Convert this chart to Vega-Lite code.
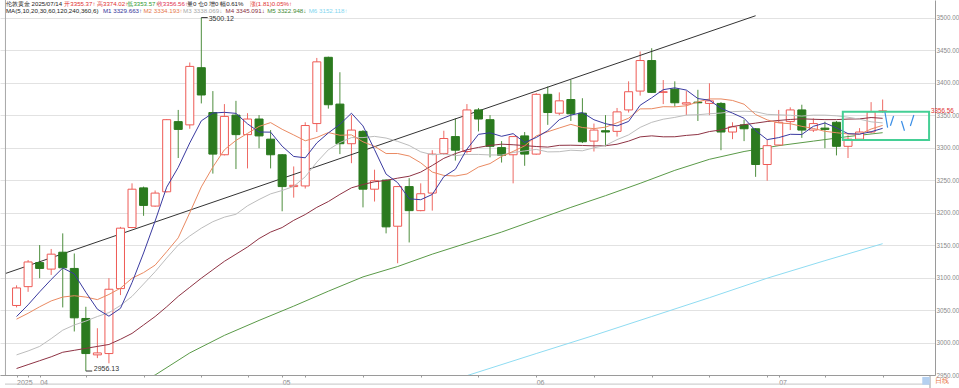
{
"$schema": "https://vega.github.io/schema/vega-lite/v6.json",
"width": 935, "height": 375,
"autosize": {"type": "none"},
"padding": {"left": 0, "top": 0, "right": 24, "bottom": 13},
"background": "#ffffff",
"config": {"view": {"stroke": null}, "font": "Liberation Sans", "axis": {"labelOverlap": false, "labelSeparation": -20}, "axisY": {"labelOverlap": false}, "axisRight": {"labelOverlap": false}},
"datasets": {
"k": [
{"i":0,"o":3057,"h":3088,"l":3054,"c":3084,"m5":3040,"m10":3036,"m20":2981,"m30":2960},
{"i":1,"o":3086,"h":3127,"l":3078,"c":3124,"m5":3058,"m10":3045,"m20":2987,"m30":2966},
{"i":2,"o":3123,"h":3150,"l":3099,"c":3114,"m5":3078,"m10":3055,"m20":2994,"m30":2972},
{"i":3,"o":3113,"h":3144,"l":3104,"c":3136,"m5":3097,"m10":3064,"m20":3006,"m30":2978},
{"i":4,"o":3139,"h":3168,"l":3054,"c":3115,"m5":3114.7,"m10":3070,"m20":3019,"m30":2985},
{"i":5,"o":3114,"h":3137,"l":3017,"c":3038,"m5":3105.6,"m10":3072,"m20":3027,"m30":2988},
{"i":6,"o":3037,"h":3055,"l":2956.13,"c":2983,"m5":3077.4,"m10":3070,"m20":3033,"m30":2991},
{"i":7,"o":2981,"h":3022,"l":2976,"c":2984,"m5":3051.3,"m10":3066,"m20":3040,"m30":2994},
{"i":8,"o":2983,"h":3099,"l":2968,"c":3082,"m5":3040.5,"m10":3074,"m20":3046,"m30":2997},
{"i":9,"o":3083,"h":3178,"l":3073,"c":3176,"m5":3052.6,"m10":3083.6,"m20":3057,"m30":3005},
{"i":10,"o":3177,"h":3245,"l":3176,"c":3236,"m5":3092.2,"m10":3098.9,"m20":3071,"m30":3014},
{"i":11,"o":3238,"h":3240,"l":3195,"c":3211,"m5":3137.8,"m10":3107.6,"m20":3090,"m30":3027},
{"i":12,"o":3210,"h":3234,"l":3209,"c":3230,"m5":3187,"m10":3119.1,"m20":3109,"m30":3040},
{"i":13,"o":3232,"h":3344,"l":3231,"c":3343,"m5":3239.1,"m10":3139.8,"m20":3130,"m30":3055},
{"i":14,"o":3340,"h":3358,"l":3284,"c":3328,"m5":3269.6,"m10":3161.1,"m20":3150,"m30":3071},
{"i":15,"o":3335,"h":3431,"l":3329,"c":3425,"m5":3307.2,"m10":3199.7,"m20":3164,"m30":3085},
{"i":16,"o":3423,"h":3500.12,"l":3368,"c":3381,"m5":3341.2,"m10":3239.5,"m20":3176,"m30":3099},
{"i":17,"o":3354,"h":3387,"l":3260,"c":3290,"m5":3353.2,"m10":3270.1,"m20":3186,"m30":3112},
{"i":18,"o":3289,"h":3367,"l":3288,"c":3348,"m5":3354.3,"m10":3296.7,"m20":3193,"m30":3125},
{"i":19,"o":3350,"h":3372,"l":3267,"c":3320,"m5":3352.7,"m10":3311.1,"m20":3197.4,"m30":3136},
{"i":20,"o":3320,"h":3353,"l":3268,"c":3344,"m5":3336.6,"m10":3321.9,"m20":3210.4,"m30":3147},
{"i":21,"o":3344,"h":3350,"l":3299,"c":3318,"m5":3324,"m10":3332.6,"m20":3220.1,"m30":3160},
{"i":22,"o":3313,"h":3327,"l":3268,"c":3289,"m5":3323.8,"m10":3338.5,"m20":3228.8,"m30":3170},
{"i":23,"o":3289,"h":3290,"l":3202,"c":3240,"m5":3302.2,"m10":3328.2,"m20":3234,"m30":3177},
{"i":24,"o":3240,"h":3271,"l":3223,"c":3242,"m5":3286.4,"m10":3319.5,"m20":3240.3,"m30":3188},
{"i":25,"o":3241,"h":3339,"l":3237,"c":3334,"m5":3284.3,"m10":3310.5,"m20":3255.1,"m30":3197},
{"i":26,"o":3337,"h":3438,"l":3324,"c":3432,"m5":3307.2,"m10":3315.6,"m20":3277.6,"m30":3208},
{"i":27,"o":3439,"h":3440,"l":3360,"c":3366,"m5":3322.6,"m10":3323.2,"m20":3296.7,"m30":3217},
{"i":28,"o":3367,"h":3416,"l":3290,"c":3306,"m5":3335.8,"m10":3319,"m20":3307.8,"m30":3228},
{"i":29,"o":3306,"h":3350,"l":3276,"c":3327,"m5":3352.9,"m10":3319.6,"m20":3315.4,"m30":3238.1},
{"i":30,"o":3325,"h":3327,"l":3208,"c":3236,"m5":3333.4,"m10":3308.9,"m20":3315.4,"m30":3243.2},
{"i":31,"o":3236,"h":3266,"l":3217,"c":3249,"m5":3296.8,"m10":3302,"m20":3317.3,"m30":3247.4},
{"i":32,"o":3250,"h":3251,"l":3168,"c":3178,"m5":3259.2,"m10":3290.9,"m20":3314.7,"m30":3249.5},
{"i":33,"o":3179,"h":3241,"l":3122,"c":3240,"m5":3246.1,"m10":3290.9,"m20":3309.6,"m30":3253},
{"i":34,"o":3240,"h":3253,"l":3154,"c":3203,"m5":3221.2,"m10":3287.1,"m20":3303.3,"m30":3255.9},
{"i":35,"o":3203,"h":3245,"l":3202,"c":3229,"m5":3219.8,"m10":3276.6,"m20":3293.5,"m30":3262.3},
{"i":36,"o":3230,"h":3296,"l":3203,"c":3290,"m5":3227.9,"m10":3262.4,"m20":3289,"m30":3272.5},
{"i":37,"o":3291,"h":3326,"l":3289,"c":3314,"m5":3255.3,"m10":3257.2,"m20":3290.2,"m30":3283.5},
{"i":38,"o":3317,"h":3345,"l":3280,"c":3296,"m5":3266.6,"m10":3256.3,"m20":3287.6,"m30":3290.7},
{"i":39,"o":3294,"h":3367,"l":3291,"c":3358,"m5":3297.6,"m10":3259.4,"m20":3289.5,"m30":3296.7},
{"i":40,"o":3358,"h":3361,"l":3325,"c":3344,"m5":3320.4,"m10":3270.1,"m20":3289.5,"m30":3300.3},
{"i":41,"o":3343,"h":3350,"l":3285,"c":3302,"m5":3322.8,"m10":3275.4,"m20":3288.7,"m30":3303.3},
{"i":42,"o":3300,"h":3310,"l":3277,"c":3288,"m5":3317.4,"m10":3286.4,"m20":3288.6,"m30":3305.3},
{"i":43,"o":3289,"h":3318,"l":3245,"c":3317,"m5":3321.5,"m10":3294.1,"m20":3292.5,"m30":3304.4},
{"i":44,"o":3318,"h":3324,"l":3272,"c":3290,"m5":3307.9,"m10":3302.7,"m20":3294.9,"m30":3303.1},
{"i":45,"o":3290,"h":3384,"l":3289,"c":3382,"m5":3315.6,"m10":3318,"m20":3297.3,"m30":3301.7},
{"i":46,"o":3382,"h":3394,"l":3335,"c":3354,"m5":3326.1,"m10":3324.4,"m20":3293.4,"m30":3300.8},
{"i":47,"o":3353,"h":3385,"l":3350,"c":3372,"m5":3343,"m10":3330.2,"m20":3293.7,"m30":3303.5},
{"i":48,"o":3374,"h":3404,"l":3341,"c":3352,"m5":3350,"m10":3335.8,"m20":3296,"m30":3303.7},
{"i":49,"o":3353,"h":3376,"l":3307,"c":3309,"m5":3353.9,"m10":3330.9,"m20":3295.1,"m30":3303.3},
{"i":50,"o":3310,"h":3337,"l":3294,"c":3327,"m5":3342.9,"m10":3329.2,"m20":3299.7,"m30":3302.7},
{"i":51,"o":3326,"h":3350,"l":3302,"c":3324,"m5":3336.8,"m10":3331.5,"m20":3303.4,"m30":3302.9},
{"i":52,"o":3325,"h":3361,"l":3317,"c":3355,"m5":3333.4,"m10":3338.2,"m20":3312.3,"m30":3305.2},
{"i":53,"o":3358,"h":3402,"l":3354,"c":3386,"m5":3340.3,"m10":3345.2,"m20":3319.6,"m30":3310},
{"i":54,"o":3387,"h":3448,"l":3380,"c":3434,"m5":3365.2,"m10":3359.6,"m20":3331.1,"m30":3316.5},
{"i":55,"o":3434,"h":3453,"l":3384,"c":3385,"m5":3376.7,"m10":3359.8,"m20":3338.9,"m30":3318.1},
{"i":56,"o":3385,"h":3404,"l":3367,"c":3386,"m5":3389.2,"m10":3363,"m20":3343.7,"m30":3316.6},
{"i":57,"o":3390,"h":3402,"l":3363,"c":3369,"m5":3392,"m10":3362.7,"m20":3346.5,"m30":3316.7},
{"i":58,"o":3367,"h":3387,"l":3350,"c":3369,"m5":3388.6,"m10":3364.4,"m20":3350.1,"m30":3318.8},
{"i":59,"o":3370,"h":3389,"l":3341,"c":3369,"m5":3375.5,"m10":3370.4,"m20":3350.6,"m30":3320.2},
{"i":60,"o":3368,"h":3399,"l":3350,"c":3372,"m5":3373,"m10":3374.9,"m20":3352.1,"m30":3324.7},
{"i":61,"o":3368,"h":3370,"l":3296,"c":3324,"m5":3360.5,"m10":3374.9,"m20":3353.2,"m30":3327.2},
{"i":62,"o":3324,"h":3339,"l":3313,"c":3332,"m5":3353.1,"m10":3372.6,"m20":3355.4,"m30":3332.4},
{"i":63,"o":3335,"h":3343,"l":3310,"c":3329,"m5":3345.1,"m10":3366.8,"m20":3356,"m30":3335.3},
{"i":64,"o":3329,"h":3330,"l":3255,"c":3274,"m5":3326.2,"m10":3350.9,"m20":3355.2,"m30":3337.7},
{"i":65,"o":3274,"h":3312,"l":3249,"c":3303,"m5":3312.3,"m10":3342.7,"m20":3351.2,"m30":3340.2},
{"i":66,"o":3304,"h":3358,"l":3303,"c":3339,"m5":3315.4,"m10":3338,"m20":3350.5,"m30":3341.8},
{"i":67,"o":3340,"h":3362,"l":3327,"c":3358,"m5":3320.5,"m10":3336.8,"m20":3349.8,"m30":3343.3},
{"i":68,"o":3358,"h":3366,"l":3315,"c":3327,"m5":3320.2,"m10":3332.7,"m20":3348.5,"m30":3344.3},
{"i":69,"o":3327,"h":3345,"l":3324,"c":3337,"m5":3332.8,"m10":3329.5,"m20":3350,"m30":3343.6},
{"i":70,"o":3330,"h":3340,"l":3299,"c":3328,"m5":3337.9,"m10":3325.1,"m20":3350,"m30":3343.1},
{"i":71,"o":3339,"h":3341,"l":3288,"c":3302,"m5":3330.4,"m10":3322.9,"m20":3348.9,"m30":3343.1},
{"i":72,"o":3302,"h":3319,"l":3284,"c":3313,"m5":3321.5,"m10":3321,"m20":3346.8,"m30":3343.9},
{"i":73,"o":3313,"h":3330,"l":3312,"c":3324,"m5":3320.8,"m10":3320.5,"m20":3343.7,"m30":3344.2},
{"i":74,"o":3324,"h":3370,"l":3322,"c":3355,"m5":3324.4,"m10":3328.6,"m20":3339.7,"m30":3346.3},
{"i":75,"o":3355.37,"h":3374.02,"l":3353.57,"c":3356.56,"m5":3329.663,"m10":3334.193,"m20":3338.069,"m30":3345.091}
],
"ma": [
{"i":10,"v":2935,"key":"m60"},{"i":12,"v":2950,"key":"m60"},{"i":15,"v":2984,"key":"m60"},{"i":18,"v":3011,"key":"m60"},
{"i":21,"v":3034,"key":"m60"},{"i":24,"v":3056,"key":"m60"},{"i":27,"v":3079,"key":"m60"},{"i":30,"v":3101,"key":"m60"},
{"i":33,"v":3117,"key":"m60"},{"i":36,"v":3136,"key":"m60"},{"i":39,"v":3153,"key":"m60"},{"i":42,"v":3170,"key":"m60"},
{"i":45,"v":3189,"key":"m60"},{"i":48,"v":3208,"key":"m60"},{"i":51,"v":3226,"key":"m60"},{"i":54,"v":3245,"key":"m60"},
{"i":57,"v":3265,"key":"m60"},{"i":60,"v":3282,"key":"m60"},{"i":63,"v":3294,"key":"m60"},{"i":66,"v":3303,"key":"m60"},
{"i":69,"v":3310,"key":"m60"},{"i":72,"v":3317,"key":"m60"},{"i":75,"v":3322.948,"key":"m60"},
{"i":38,"v":2943,"key":"m120"},{"i":39,"v":2949,"key":"m120"},{"i":45,"v":2983,"key":"m120"},{"i":50,"v":3011,"key":"m120"},
{"i":55,"v":3040,"key":"m120"},{"i":60,"v":3069,"key":"m120"},{"i":65,"v":3099,"key":"m120"},{"i":70,"v":3126,"key":"m120"},
{"i":75,"v":3152.118,"key":"m120"}
],
"trend": [{"i":-1,"v":3106},{"i":64,"v":3503}],
"proj": [
{"i":75.2,"v":3354.4,"s":"a"},{"i":75.43,"v":3330.7,"s":"a"},
{"i":75.67,"v":3333.7,"s":"b"},{"i":75.95,"v":3348.7,"s":"b"},
{"i":76.63,"v":3341,"s":"c"},{"i":76.89,"v":3326,"s":"c"},
{"i":77.4,"v":3333.3,"s":"d"},{"i":77.7,"v":3350.2,"s":"d"}
]
},
"layer": [
{"data": {"name": "k"},
 "mark": {"type": "rule", "strokeWidth": 1},
 "encoding": {
  "x": {"field": "i", "type": "quantitative", "title": null, "scale": {"domain": [-1, 79.1], "nice": false, "zero": false},
        "axis": {"orient": "bottom", "title": null, "grid": false, "values": [0,1,2,6,11,16,20,23,25,30,35,40,45,50,55,60,65,66,70,75],
                 "labelExpr": "datum.value==0?'2025':datum.value==2?'04':datum.value==23?'05':datum.value==45?'06':datum.value==66?'07':''",
                 "domainColor": "#9a9a9a", "tickColor": "#9a9a9a", "tickSize": 2, "labelAlign": "left", "labelDx": 1,
                 "labelFontSize": 7, "labelColor": "#8a8a8a", "labelPadding": 1, "labelFlush": false, "labelOverlap": false}},
  "y": {"field": "l", "type": "quantitative", "title": null, "scale": {"domain": [2950, 3527.2], "nice": false, "zero": false},
        "axis": {"orient": "right", "title": null, "tickCount": 12, "values": [2950,3000,3050,3100,3150,3200,3250,3300,3350,3400,3450,3500],
                 "format": ".2f", "grid": true, "gridColor": "#e2e2e2", "domainColor": "#9a9a9a", "ticks": false,
                 "labelFontSize": 6.3, "labelColor": "#8a8a8a", "labelPadding": 1, "labelFlush": false, "labelOverlap": false, "labelSeparation": -20}},
  "y2": {"field": "h"},
  "color": {"condition": {"test": "datum.c >= datum.o", "value": "#ee6a64"}, "value": "#4e8e3e"}
 }},
{"data": {"name": "trend"},
 "mark": {"type": "line", "color": "#333333", "strokeWidth": 1, "clip": true},
 "encoding": {
  "x": {"field": "i", "type": "quantitative", "title": null, "scale": {"domain": [-1, 79.1], "nice": false, "zero": false}},
  "y": {"field": "v", "type": "quantitative", "title": null, "scale": {"domain": [2950, 3527.2], "nice": false, "zero": false}, "axis": {"orient": "right", "labelOverlap": false}}
 }},
{"data": {"name": "ma"},
 "mark": {"type": "line", "strokeWidth": 1, "clip": true},
 "encoding": {
  "x": {"field": "i", "type": "quantitative", "title": null, "scale": {"domain": [-1, 79.1], "nice": false, "zero": false}},
  "y": {"field": "v", "type": "quantitative", "title": null, "scale": {"domain": [2950, 3527.2], "nice": false, "zero": false}, "axis": {"orient": "right", "labelOverlap": false}},
  "color": {"field": "key", "type": "nominal", "legend": null,
            "scale": {"domain": ["m5","m10","m20","m30","m60","m120"], "range": ["#3a3aa0","#ea8a62","#bdbdbd","#8e3344","#5a9a48","#8fdcf2"]}}
 }},
{"data": {"name": "k"},
 "mark": {"type": "bar", "size": 8, "strokeWidth": 1},
 "encoding": {
  "x": {"field": "i", "type": "quantitative", "title": null, "scale": {"domain": [-1, 79.1], "nice": false, "zero": false}},
  "y": {"field": "o", "type": "quantitative", "title": null, "scale": {"domain": [2950, 3527.2], "nice": false, "zero": false}, "axis": {"orient": "right", "labelOverlap": false}},
  "y2": {"field": "c"},
  "fill": {"condition": {"test": "datum.c >= datum.o", "value": "#ffffff"}, "value": "#2b7a1f"},
  "stroke": {"condition": {"test": "datum.c >= datum.o", "value": "#ee5a55"}, "value": "#2b7a1f"}
 }},
{"data": {"name": "k"},
 "transform": [{"fold": ["m30","m20","m10","m5"], "as": ["key","v"]}],
 "mark": {"type": "line", "strokeWidth": 1, "clip": true},
 "encoding": {
  "x": {"field": "i", "type": "quantitative", "title": null, "scale": {"domain": [-1, 79.1], "nice": false, "zero": false}},
  "y": {"field": "v", "type": "quantitative", "title": null, "scale": {"domain": [2950, 3527.2], "nice": false, "zero": false}, "axis": {"orient": "right", "labelOverlap": false}},
  "color": {"field": "key", "type": "nominal", "legend": null,
            "scale": {"domain": ["m5","m10","m20","m30","m60","m120"], "range": ["#3a3aa0","#ea8a62","#bdbdbd","#8e3344","#5a9a48","#8fdcf2"]}},
  "detail": {"field": "key"}
 }},
{"data": {"values": [{}]},
 "mark": {"type": "rect", "fillOpacity": 0, "stroke": "#45cf95", "strokeWidth": 2},
 "encoding": {
  "x": {"datum": 71.55, "type": "quantitative", "title": null, "scale": {"domain": [-1, 79.1], "nice": false, "zero": false}},
  "x2": {"datum": 79.02},
  "y": {"datum": 3355.3, "type": "quantitative", "title": null, "scale": {"domain": [2950, 3527.2], "nice": false, "zero": false}, "axis": {"orient": "right", "labelOverlap": false}},
  "y2": {"datum": 3311.7}
 }},
{"data": {"name": "proj"},
 "mark": {"type": "line", "color": "#3a8ee6", "strokeWidth": 1.2},
 "encoding": {
  "x": {"field": "i", "type": "quantitative", "title": null, "scale": {"domain": [-1, 79.1], "nice": false, "zero": false}},
  "y": {"field": "v", "type": "quantitative", "title": null, "scale": {"domain": [2950, 3527.2], "nice": false, "zero": false}, "axis": {"orient": "right", "labelOverlap": false}},
  "detail": {"field": "s"}
 }},
{"data": {"values": [{}]},
 "mark": {"type": "rule", "color": "#333333", "strokeWidth": 1},
 "encoding": {
  "x": {"datum": 16, "type": "quantitative", "title": null, "scale": {"domain": [-1, 79.1], "nice": false, "zero": false}},
  "x2": {"datum": 16.55},
  "y": {"datum": 3500.12, "type": "quantitative", "title": null, "scale": {"domain": [2950, 3527.2], "nice": false, "zero": false}, "axis": {"orient": "right", "labelOverlap": false}}
 }},
{"data": {"values": [{}]},
 "mark": {"type": "text", "text": "3500.12", "align": "left", "baseline": "middle", "dx": 1, "dy": 1, "fontSize": 7, "color": "#333333"},
 "encoding": {
  "x": {"datum": 16.55, "type": "quantitative", "title": null, "scale": {"domain": [-1, 79.1], "nice": false, "zero": false}},
  "y": {"datum": 3500.12, "type": "quantitative", "title": null, "scale": {"domain": [2950, 3527.2], "nice": false, "zero": false}, "axis": {"orient": "right", "labelOverlap": false}}
 }},
{"data": {"values": [{}]},
 "mark": {"type": "rule", "color": "#333333", "strokeWidth": 1},
 "encoding": {
  "x": {"datum": 6, "type": "quantitative", "title": null, "scale": {"domain": [-1, 79.1], "nice": false, "zero": false}},
  "x2": {"datum": 6.55},
  "y": {"datum": 2956.13, "type": "quantitative", "title": null, "scale": {"domain": [2950, 3527.2], "nice": false, "zero": false}, "axis": {"orient": "right", "labelOverlap": false}}
 }},
{"data": {"values": [{}]},
 "mark": {"type": "text", "text": "2956.13", "align": "left", "baseline": "alphabetic", "dx": 1, "dy": 0, "fontSize": 7, "color": "#333333"},
 "encoding": {
  "x": {"datum": 6.6, "type": "quantitative", "title": null, "scale": {"domain": [-1, 79.1], "nice": false, "zero": false}},
  "y": {"datum": 2956.13, "type": "quantitative", "title": null, "scale": {"domain": [2950, 3527.2], "nice": false, "zero": false}, "axis": {"orient": "right", "labelOverlap": false}}
 }},
{"data": {"values": [{}]},
 "mark": {"type": "text", "text": "3356.56", "align": "left", "baseline": "middle", "dx": 1, "fontSize": 6.3, "color": "#e03030"},
 "encoding": {
  "x": {"datum": 79.1, "type": "quantitative", "title": null, "scale": {"domain": [-1, 79.1], "nice": false, "zero": false}},
  "y": {"datum": 3356.56, "type": "quantitative", "title": null, "scale": {"domain": [2950, 3527.2], "nice": false, "zero": false}, "axis": {"orient": "right", "labelOverlap": false}}
 }},
{"data": {"values": [{}]},
 "mark": {"type": "rule", "color": "#a8a8a8", "strokeWidth": 1},
 "encoding": {
  "x": {"datum": -0.96, "type": "quantitative", "title": null, "scale": {"domain": [-1, 79.1], "nice": false, "zero": false}},
  "y": {"datum": 2950, "type": "quantitative", "title": null, "scale": {"domain": [2950, 3527.2], "nice": false, "zero": false}, "axis": {"orient": "right", "labelOverlap": false}},
  "y2": {"datum": 3527.2}
 }},
{"data": {"values": [{}]},
 "mark": {"type": "rule", "color": "#c4c4c4", "strokeWidth": 1},
 "encoding": {
  "x": {"datum": -1, "type": "quantitative", "title": null, "scale": {"domain": [-1, 79.1], "nice": false, "zero": false}},
  "x2": {"datum": 79.1},
  "y": {"datum": 2936, "type": "quantitative", "title": null, "scale": {"domain": [2950, 3527.2], "nice": false, "zero": false}, "axis": {"orient": "right", "labelOverlap": false}}
 }},
{"data": {"values": [{}]},
 "mark": {"type": "rule", "color": "#9a9a9a", "strokeWidth": 1},
 "encoding": {
  "x": {"datum": 79.1, "type": "quantitative", "title": null, "scale": {"domain": [-1, 79.1], "nice": false, "zero": false}},
  "y": {"datum": 2950, "type": "quantitative", "title": null, "scale": {"domain": [2950, 3527.2], "nice": false, "zero": false}, "axis": {"orient": "right", "labelOverlap": false}},
  "y2": {"datum": 2929}
 }},
{"data": {"values": [{}]},
 "mark": {"type": "rect", "fill": "#b4d0f0"},
 "encoding": {
  "x": {"datum": 78.43, "type": "quantitative", "title": null, "scale": {"domain": [-1, 79.1], "nice": false, "zero": false}},
  "x2": {"datum": 79.08},
  "y": {"datum": 2947, "type": "quantitative", "title": null, "scale": {"domain": [2950, 3527.2], "nice": false, "zero": false}, "axis": {"orient": "right", "labelOverlap": false}},
  "y2": {"datum": 2935}
 }},
{"data": {"values": [{}]},
 "mark": {"type": "text", "text": "日线", "align": "left", "baseline": "middle", "dx": 5, "fontSize": 7, "color": "#e8703a"},
 "encoding": {
  "x": {"datum": 79.1, "type": "quantitative", "title": null, "scale": {"domain": [-1, 79.1], "nice": false, "zero": false}},
  "y": {"datum": 2940, "type": "quantitative", "title": null, "scale": {"domain": [2950, 3527.2], "nice": false, "zero": false}, "axis": {"orient": "right", "labelOverlap": false}}
 }},
{"data": {"values": [{}]},
 "mark": {"type": "text", "text": "伦敦黄金 2025/07/14", "align": "left", "baseline": "middle", "fontSize": 6.1, "color": "#222222"},
 "encoding": {
  "x": {"datum": -0.92, "type": "quantitative", "title": null, "scale": {"domain": [-1, 79.1], "nice": false, "zero": false}},
  "y": {"datum": 3521.8, "type": "quantitative", "title": null, "scale": {"domain": [2950, 3527.2], "nice": false, "zero": false}, "axis": {"orient": "right", "labelOverlap": false}}
 }},
{"data": {"values": [{}]},
 "mark": {"type": "text", "text": "开3355.37↑", "align": "left", "baseline": "middle", "fontSize": 6.1, "color": "#e03030"},
 "encoding": {
  "x": {"datum": 4.14, "type": "quantitative", "title": null, "scale": {"domain": [-1, 79.1], "nice": false, "zero": false}},
  "y": {"datum": 3521.8, "type": "quantitative", "title": null, "scale": {"domain": [2950, 3527.2], "nice": false, "zero": false}, "axis": {"orient": "right", "labelOverlap": false}}
 }},
{"data": {"values": [{}]},
 "mark": {"type": "text", "text": "高3374.02↑", "align": "left", "baseline": "middle", "fontSize": 6.1, "color": "#e03030"},
 "encoding": {
  "x": {"datum": 6.97, "type": "quantitative", "title": null, "scale": {"domain": [-1, 79.1], "nice": false, "zero": false}},
  "y": {"datum": 3521.8, "type": "quantitative", "title": null, "scale": {"domain": [2950, 3527.2], "nice": false, "zero": false}, "axis": {"orient": "right", "labelOverlap": false}}
 }},
{"data": {"values": [{}]},
 "mark": {"type": "text", "text": "低3353.57↑", "align": "left", "baseline": "middle", "fontSize": 6.1, "color": "#2f9a2f"},
 "encoding": {
  "x": {"datum": 9.6, "type": "quantitative", "title": null, "scale": {"domain": [-1, 79.1], "nice": false, "zero": false}},
  "y": {"datum": 3521.8, "type": "quantitative", "title": null, "scale": {"domain": [2950, 3527.2], "nice": false, "zero": false}, "axis": {"orient": "right", "labelOverlap": false}}
 }},
{"data": {"values": [{}]},
 "mark": {"type": "text", "text": "收3356.56↑", "align": "left", "baseline": "middle", "fontSize": 6.1, "color": "#e03050"},
 "encoding": {
  "x": {"datum": 12.15, "type": "quantitative", "title": null, "scale": {"domain": [-1, 79.1], "nice": false, "zero": false}},
  "y": {"datum": 3521.8, "type": "quantitative", "title": null, "scale": {"domain": [2950, 3527.2], "nice": false, "zero": false}, "axis": {"orient": "right", "labelOverlap": false}}
 }},
{"data": {"values": [{}]},
 "mark": {"type": "text", "text": "量0  仓0  增0  幅0.61%", "align": "left", "baseline": "middle", "fontSize": 6.1, "color": "#222222"},
 "encoding": {
  "x": {"datum": 14.75, "type": "quantitative", "title": null, "scale": {"domain": [-1, 79.1], "nice": false, "zero": false}},
  "y": {"datum": 3521.8, "type": "quantitative", "title": null, "scale": {"domain": [2950, 3527.2], "nice": false, "zero": false}, "axis": {"orient": "right", "labelOverlap": false}}
 }},
{"data": {"values": [{}]},
 "mark": {"type": "text", "text": "涨(1.81)0.05%↑", "align": "left", "baseline": "middle", "fontSize": 6.1, "color": "#e03030"},
 "encoding": {
  "x": {"datum": 20.2, "type": "quantitative", "title": null, "scale": {"domain": [-1, 79.1], "nice": false, "zero": false}},
  "y": {"datum": 3521.8, "type": "quantitative", "title": null, "scale": {"domain": [2950, 3527.2], "nice": false, "zero": false}, "axis": {"orient": "right", "labelOverlap": false}}
 }},
{"data": {"values": [{}]},
 "mark": {"type": "text", "text": "MA(5,10,20,30,60,120,240,360,6)", "align": "left", "baseline": "middle", "fontSize": 6.2, "color": "#222222"},
 "encoding": {
  "x": {"datum": -0.92, "type": "quantitative", "title": null, "scale": {"domain": [-1, 79.1], "nice": false, "zero": false}},
  "y": {"datum": 3511, "type": "quantitative", "title": null, "scale": {"domain": [2950, 3527.2], "nice": false, "zero": false}, "axis": {"orient": "right", "labelOverlap": false}}
 }},
{"data": {"values": [{}]},
 "mark": {"type": "text", "text": "M1 3329.663↑", "align": "left", "baseline": "middle", "fontSize": 6.2, "color": "#34349a"},
 "encoding": {
  "x": {"datum": 7.48, "type": "quantitative", "title": null, "scale": {"domain": [-1, 79.1], "nice": false, "zero": false}},
  "y": {"datum": 3511, "type": "quantitative", "title": null, "scale": {"domain": [2950, 3527.2], "nice": false, "zero": false}, "axis": {"orient": "right", "labelOverlap": false}}
 }},
{"data": {"values": [{}]},
 "mark": {"type": "text", "text": "M2 3334.193↑", "align": "left", "baseline": "middle", "fontSize": 6.2, "color": "#e5794a"},
 "encoding": {
  "x": {"datum": 10.99, "type": "quantitative", "title": null, "scale": {"domain": [-1, 79.1], "nice": false, "zero": false}},
  "y": {"datum": 3511, "type": "quantitative", "title": null, "scale": {"domain": [2950, 3527.2], "nice": false, "zero": false}, "axis": {"orient": "right", "labelOverlap": false}}
 }},
{"data": {"values": [{}]},
 "mark": {"type": "text", "text": "M3 3338.069↓", "align": "left", "baseline": "middle", "fontSize": 6.2, "color": "#a8a8a8"},
 "encoding": {
  "x": {"datum": 14.42, "type": "quantitative", "title": null, "scale": {"domain": [-1, 79.1], "nice": false, "zero": false}},
  "y": {"datum": 3511, "type": "quantitative", "title": null, "scale": {"domain": [2950, 3527.2], "nice": false, "zero": false}, "axis": {"orient": "right", "labelOverlap": false}}
 }},
{"data": {"values": [{}]},
 "mark": {"type": "text", "text": "M4 3345.091↓", "align": "left", "baseline": "middle", "fontSize": 6.2, "color": "#8a3040"},
 "encoding": {
  "x": {"datum": 18.1, "type": "quantitative", "title": null, "scale": {"domain": [-1, 79.1], "nice": false, "zero": false}},
  "y": {"datum": 3511, "type": "quantitative", "title": null, "scale": {"domain": [2950, 3527.2], "nice": false, "zero": false}, "axis": {"orient": "right", "labelOverlap": false}}
 }},
{"data": {"values": [{}]},
 "mark": {"type": "text", "text": "M5 3322.948↓", "align": "left", "baseline": "middle", "fontSize": 6.2, "color": "#3f8a35"},
 "encoding": {
  "x": {"datum": 21.7, "type": "quantitative", "title": null, "scale": {"domain": [-1, 79.1], "nice": false, "zero": false}},
  "y": {"datum": 3511, "type": "quantitative", "title": null, "scale": {"domain": [2950, 3527.2], "nice": false, "zero": false}, "axis": {"orient": "right", "labelOverlap": false}}
 }},
{"data": {"values": [{}]},
 "mark": {"type": "text", "text": "M6 3152.118↑", "align": "left", "baseline": "middle", "fontSize": 6.2, "color": "#7fd6ef"},
 "encoding": {
  "x": {"datum": 25.3, "type": "quantitative", "title": null, "scale": {"domain": [-1, 79.1], "nice": false, "zero": false}},
  "y": {"datum": 3511, "type": "quantitative", "title": null, "scale": {"domain": [2950, 3527.2], "nice": false, "zero": false}, "axis": {"orient": "right", "labelOverlap": false}}
 }}
]
}
